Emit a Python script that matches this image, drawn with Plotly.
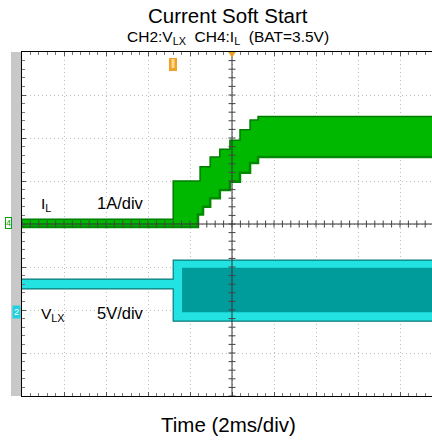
import plotly.graph_objects as go

W, H = 432, 441

# ---------------- data (screen divisions; 2 ms/div, CH4 1 A/div, CH2 5 V/div) -------------
# CH4: inductor current envelope (step shaped, 'hv')
il_upper_t = [0.00, 3.60, 4.24, 4.48, 4.71, 4.95, 5.19, 5.43, 5.62, 9.80]
il_upper_v = [0.11, 1.00, 1.33, 1.56, 1.74, 1.95, 2.19, 2.42, 2.50, 2.50]
il_lower_t = [0.00, 4.19, 4.31, 4.48, 4.71, 4.95, 5.19, 5.43, 5.62, 9.80]
il_lower_v = [-0.07, 0.22, 0.40, 0.60, 0.79, 0.98, 1.19, 1.42, 1.56, 1.56]

# CH2: switch node voltage envelope
vlx_t = [0.00, 3.60, 9.80]
vlx_upper = [-1.28, -0.84, -0.84]
vlx_lower = [-1.51, -2.26, -2.26]
vlx_inner_t = [3.81, 9.80]
vlx_inner_upper = [-1.02, -1.02]
vlx_inner_lower = [-2.05, -2.05]

x_divs = 10
y_divs = 8
x_visible = 410 / 42  # screen cut at right edge


def step_path(t, v):
    xs, ys = [], []
    for i in range(len(t)):
        if i > 0:
            xs.append(t[i]); ys.append(v[i - 1])
        xs.append(t[i]); ys.append(v[i])
    return xs, ys


def band(fig, t_hi, hi, t_lo, lo, fill, edge_hi=None, edge_lo=None, w_hi=1.2, w_lo=1.2):
    ux, uy = step_path(t_hi, hi)
    lx, ly = step_path(t_lo, lo)
    fig.add_trace(go.Scatter(x=ux + lx[::-1], y=uy + ly[::-1], fill="toself",
                             fillcolor=fill, line=dict(width=0), mode="lines",
                             hoverinfo="skip", showlegend=False))
    for xs, ys, c, w in ((ux, uy, edge_hi, w_hi), (lx, ly, edge_lo, w_lo)):
        if c:
            fig.add_trace(go.Scatter(x=xs, y=ys, mode="lines",
                                     line=dict(color=c, width=w),
                                     hoverinfo="skip", showlegend=False))


fig = go.Figure()

# VLX
band(fig, vlx_t, vlx_upper, vlx_t, vlx_lower, "#22e2e2", "#0a7a7a", "#0a7a7a")
band(fig, vlx_inner_t, vlx_inner_upper, vlx_inner_t, vlx_inner_lower, "#009c9c")

# IL
band(fig, il_upper_t, il_upper_v, il_lower_t, il_lower_v, "#00b800",
     "#007d00", "#008a00", 1.5, 2.5)

# ---------------- layout -----------------
x0p, x1p = 22, 432
y0p, y1p = 52, 396
font = "Liberation Sans, Arial, sans-serif"

axis_common = dict(showline=True, linecolor="black", linewidth=1,
                   showticklabels=False, zeroline=False,
                   showgrid=True, gridcolor="#bdbdbd", griddash="1px,3px", gridwidth=1,
                   ticks="inside", ticklen=4, tickcolor="#555555", dtick=1,
                   minor=dict(ticks="inside", ticklen=3, dtick=0.2, tickcolor="#777777",
                              showgrid=False))

fig.update_layout(
    width=W, height=H, margin=dict(l=0, r=0, t=0, b=0),
    paper_bgcolor="white", plot_bgcolor="white",
    xaxis=dict(domain=[x0p / W, x1p / W], range=[0, x_visible], mirror="ticks",
               tick0=0, **axis_common),
    yaxis=dict(domain=[1 - y1p / H, 1 - y0p / H], range=[-y_divs / 2, y_divs / 2],
               mirror=False, tick0=0, **axis_common),
    showlegend=False,
)


def px(x):
    return x / W


def py(y):
    return 1 - y / H


shapes = []
# grey strip at the left edge
shapes.append(dict(type="rect", xref="paper", yref="paper", x0=px(11), x1=px(22),
                   y0=py(y1p), y1=py(y0p), fillcolor="#c8c8c8",
                   line=dict(width=0), layer="below"))
# centre cross
shapes.append(dict(type="line", xref="x", yref="y", x0=x_divs / 2, x1=x_divs / 2,
                   y0=-y_divs / 2, y1=y_divs / 2, line=dict(color="#333333", width=1)))
shapes.append(dict(type="line", xref="x", yref="y", x0=0, x1=x_visible,
                   y0=0, y1=0, line=dict(color="#333333", width=1)))
hx = 3.5 / 42
hy = 3.5 / 43
n = 0
while n * 0.2 <= x_visible:
    xv = n * 0.2
    shapes.append(dict(type="line", xref="x", yref="y", x0=xv, x1=xv, y0=-hy, y1=hy,
                       line=dict(color="#444444", width=1)))
    n += 1
n = 0
while n * 0.2 <= y_divs:
    yv = -y_divs / 2 + n * 0.2
    shapes.append(dict(type="line", xref="x", yref="y", x0=x_divs / 2 - hx,
                       x1=x_divs / 2 + hx, y0=yv, y1=yv,
                       line=dict(color="#444444", width=1)))
    n += 1

# trigger markers
shapes.append(dict(type="path", xref="paper", yref="paper",
                   path=f"M {px(228.5)} {py(52)} L {px(235.5)} {py(52)} L {px(232)} {py(58)} Z",
                   fillcolor="#e8a020", line=dict(width=0)))
shapes.append(dict(type="rect", xref="paper", yref="paper", x0=px(169), x1=px(177),
                   y0=py(71), y1=py(58), fillcolor="#eea22a", line=dict(width=0)))
shapes.append(dict(type="rect", xref="paper", yref="paper", x0=px(171.5), x1=px(174.5),
                   y0=py(68), y1=py(59), fillcolor="#ffd88a", line=dict(width=0)))

fig.update_layout(shapes=shapes)

ann = []


def text(x, y, s, size, anchor="center", color="black", **kw):
    ann.append(dict(x=px(x), y=py(y), xref="paper", yref="paper", text=s, showarrow=False,
                    xanchor=anchor, yanchor="middle",
                    font=dict(family=font, size=size, color=color), **kw))


text(228, 16, "Current Soft Start", 20.5)
text(228, 38, "CH2:V<sub>LX</sub>\u00a0\u00a0CH4:I<sub>L</sub>\u00a0\u00a0(BAT=3.5V)", 15.5)
text(39, 204, "I<sub>L</sub>", 15.5, anchor="left")
text(95, 203, "1A/div", 16.5, anchor="left")
text(39, 314, "V<sub>LX</sub>", 15.5, anchor="left")
text(95, 313, "5V/div", 16.5, anchor="left")
text(228, 424, "Time (2ms/div)", 20.5)

# channel tags
text(8, 223, "4", 9, color="#10a010", bgcolor="white", bordercolor="#10a010",
     borderwidth=1, borderpad=0)
text(16, 312, "2", 9, color="white", bgcolor="#20d0e0", borderpad=1)

fig.update_layout(annotations=ann)

fig.write_html("out.html", config={"displayModeBar": False},
               post_script="document.body.style.margin='0';")
